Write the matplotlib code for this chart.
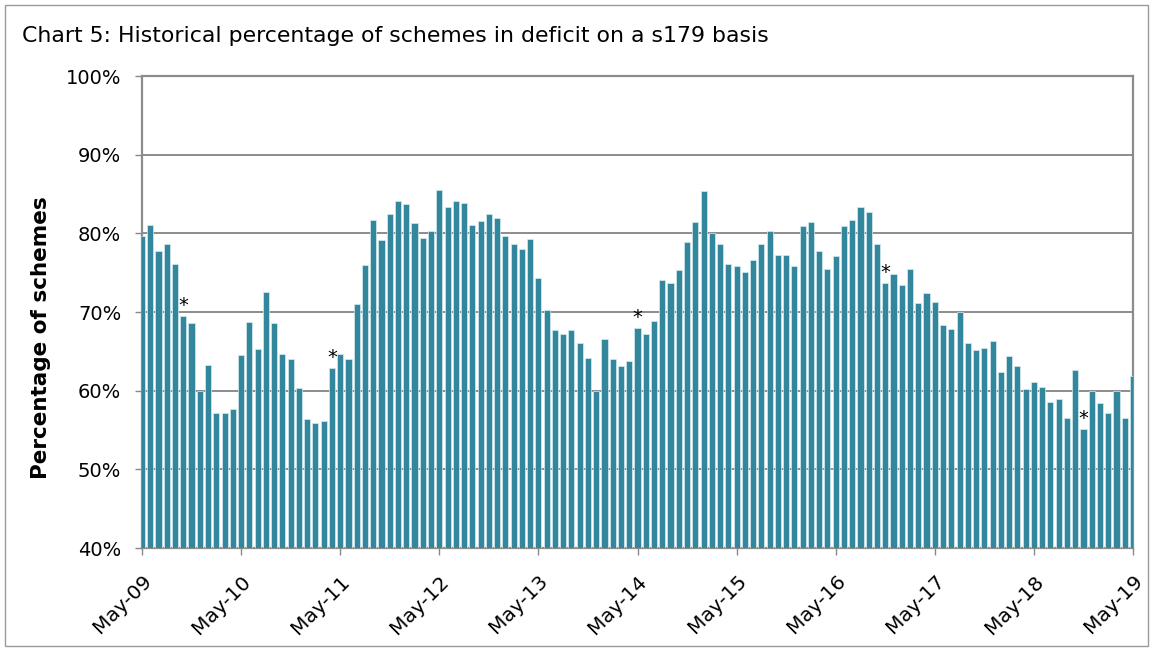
import matplotlib
matplotlib.use("Agg")
import matplotlib.pyplot as plt
from matplotlib.patches import Rectangle
import numpy as np

values = [79.7, 81.1, 77.7, 78.6, 76.1, 69.5, 68.6, 60.0, 63.3, 57.1,
          57.1, 57.7, 64.5, 68.7, 65.3, 72.5, 68.6, 64.6, 64.0, 60.3,
          56.4, 55.9, 56.1, 62.9, 64.6, 64.0, 71.0, 76.0, 81.7, 79.1,
          82.4, 84.1, 83.7, 81.3, 79.4, 80.3, 85.5, 83.4, 84.1, 83.8,
          81.1, 81.6, 82.4, 81.9, 79.6, 78.6, 78.0, 79.3, 74.3, 70.3,
          67.7, 67.2, 67.7, 66.0, 64.1, 60.0, 66.6, 64.0, 63.1, 63.8,
          68.0, 67.2, 68.9, 74.1, 73.7, 75.4, 78.9, 81.4, 85.4, 80.0,
          78.6, 76.1, 75.8, 75.1, 76.6, 78.6, 80.3, 77.3, 77.3, 75.9,
          80.9, 81.4, 77.7, 75.5, 77.1, 80.9, 81.7, 83.4, 82.7, 78.7,
          73.7, 74.8, 73.4, 75.5, 71.1, 72.4, 71.3, 68.4, 67.8, 70.0,
          66.1, 65.2, 65.4, 66.3, 62.4, 64.4, 63.1, 60.2, 61.1, 60.5,
          58.6, 59.0, 56.5, 62.6, 55.1, 59.9, 58.4, 57.1, 59.9, 56.5,
          61.9]
asterisk_idx = [5, 23, 60, 90, 114]
tick_labels = ["May-09", "May-10", "May-11", "May-12", "May-13", "May-14",
               "May-15", "May-16", "May-17", "May-18", "May-19"]
y_ticks = [40, 50, 60, 70, 80, 90, 100]

W, H = 1153, 651
fig = plt.figure(figsize=(W / 100, H / 100), dpi=100)
fig.patch.set_facecolor("white")
ax = fig.add_axes([142 / W, 1 - 548 / H, (1133 - 142) / W, (548 - 76) / H])

x = np.arange(len(values))
ax.bar(x, np.array(values) - 40, bottom=40, width=0.74, color="#32879D",
       edgecolor="#d6ebf0", linewidth=0.5, zorder=3)
for i in asterisk_idx:
    ax.text(x[i], values[i] + 0.1, "*", ha="center", va="bottom",
            fontsize=14, color="black", zorder=4)

ax.set_xlim(0, len(values) - 1)
ax.set_ylim(40, 100)
ax.set_yticks(y_ticks)
ax.set_yticklabels([f"{v}%" for v in y_ticks], fontsize=14)
ax.set_xticks(np.arange(0, len(values), 12))
ax.set_xticklabels(tick_labels, rotation=45, ha="right", rotation_mode="anchor",
                   fontsize=14.5)
ax.tick_params(axis="x", length=5, width=1, color="#888888", direction="out", pad=12)
ax.tick_params(axis="y", length=5, width=1, color="#888888", direction="out", pad=10)
ax.yaxis.grid(True, color="#8c8c8c", linewidth=1.4, zorder=0)
ax.set_axisbelow(True)
for s in ["left", "right", "bottom", "top"]:
    ax.spines[s].set_color("#8c8c8c")
    ax.spines[s].set_linewidth(1.6)

fig.text(41 / W, 1 - 338 / H, "Percentage of schemes", fontsize=15.5, fontweight="bold",
         rotation=90, ha="center", va="center")

fig.text(22 / W, 1 - 36 / H, "Chart 5: Historical percentage of schemes in deficit on a s179 basis",
         fontsize=15.8, va="center", ha="left")

fig.patches.append(Rectangle((5 / W, 5 / H), 1 - 10 / W, 1 - 10 / H, transform=fig.transFigure,
                             fill=False, edgecolor="#9a9a9a", linewidth=1))

fig.savefig("out.png", dpi=100)
